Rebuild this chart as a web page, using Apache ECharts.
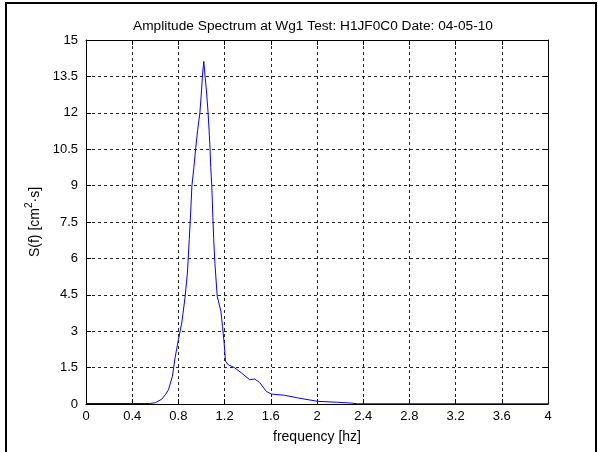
<!DOCTYPE html>
<html>
<head>
<meta charset="utf-8">
<script src="https://cdn.jsdelivr.net/npm/echarts@6/dist/echarts.min.js"></script>
<style>
html,body{margin:0;padding:0;background:#fff;}
#chart{position:absolute;left:0;top:0;width:598px;height:452px;}
#frame{position:absolute;left:5px;top:2px;width:588px;height:470px;border:2px solid #000;pointer-events:none;}
</style>
</head>
<body>
<div id="chart"></div>
<div id="frame"></div>
<script>
const titleText = 'Amplitude Spectrum at Wg1 Test: H1JF0C0 Date: 04-05-10';
const xName = 'frequency [hz]';
const yNameParts = ['S(f) [cm', '2', '\u00B7s]'];
const xTicks = [0, 0.4, 0.8, 1.2, 1.6, 2, 2.4, 2.8, 3.2, 3.6, 4];
const yTicks = [0, 1.5, 3, 4.5, 6, 7.5, 9, 10.5, 12, 13.5, 15];
const freq = [0, 0.55, 0.6, 0.656, 0.69, 0.714, 0.748, 0.771, 0.8, 0.829, 0.857, 0.878, 0.894, 0.906, 0.917, 0.934, 0.949, 0.966, 0.986, 1.0, 1.009, 1.02, 1.029, 1.043, 1.057, 1.066, 1.074, 1.08, 1.089, 1.097, 1.106, 1.116, 1.136, 1.168, 1.182, 1.196, 1.208, 1.231, 1.288, 1.346, 1.417, 1.46, 1.503, 1.561, 1.604, 1.719, 1.834, 2.006, 2.178, 2.293, 2.35, 4.0];
const amp = [0.02, 0.02, 0.05, 0.2, 0.4, 0.59, 1.14, 1.9, 2.65, 3.34, 4.37, 5.4, 6.77, 7.87, 9.0, 9.75, 10.5, 11.26, 12.0, 12.9, 13.6, 14.12, 13.6, 12.9, 12.0, 11.26, 10.5, 9.75, 9.0, 7.87, 6.77, 5.8, 4.44, 3.82, 3.2, 2.52, 1.76, 1.62, 1.49, 1.28, 1.0, 1.03, 0.89, 0.52, 0.41, 0.36, 0.25, 0.11, 0.07, 0.04, 0.01, 0.01];

const font = 'Liberation Sans, Arial, sans-serif';
const pts = freq.map((f, i) => [f, amp[i]]);
const xStep = xTicks[1] - xTicks[0];
const yStep = yTicks[1] - yTicks[0];

function xAx(pos, main) {
  return {
    type: 'value', position: pos, min: xTicks[0], max: xTicks[xTicks.length - 1], interval: xStep,
    name: main ? xName : '', nameLocation: 'middle', nameGap: 26,
    nameTextStyle: {fontFamily: font, fontSize: 14, color: '#000'},
    axisLine: {show: true, onZero: false, lineStyle: {color: '#000', width: 1}},
    axisTick: {show: true, inside: true, length: 5, lineStyle: {color: '#000'}},
    axisLabel: {show: main, fontFamily: font, fontSize: 13, color: '#000', margin: 6,
      formatter: v => String(Math.round(v * 10) / 10)},
    splitLine: {show: main, lineStyle: {color: '#222', type: [3, 3], width: 1}}
  };
}
function yAx(pos, main) {
  return {
    type: 'value', position: pos, min: yTicks[0], max: yTicks[yTicks.length - 1], interval: yStep,
    name: main ? '{n|' + yNameParts[0] + '}{s|' + yNameParts[1] + '}{n|' + yNameParts[2] + '}' : '',
    nameLocation: 'middle', nameGap: 42, nameRotate: 90,
    nameTextStyle: {fontFamily: font, fontSize: 14, color: '#000',
      rich: {
        n: {fontFamily: font, fontSize: 14, color: '#000', verticalAlign: 'bottom', lineHeight: 18},
        s: {fontFamily: font, fontSize: 10, color: '#000', verticalAlign: 'top', lineHeight: 18, padding: [0, 0, 8, 0]}
      }},
    axisLine: {show: true, onZero: false, lineStyle: {color: '#000', width: 1}},
    axisTick: {show: true, inside: true, length: 5, lineStyle: {color: '#000'}},
    axisLabel: {show: main, fontFamily: font, fontSize: 13, color: '#000', margin: 8,
      formatter: v => String(Math.round(v * 10) / 10)},
    splitLine: {show: main, lineStyle: {color: '#222', type: [3, 3], width: 1}}
  };
}

const chart = echarts.init(document.getElementById('chart'), null, {renderer: 'canvas'});
chart.setOption({
  animation: false,
  backgroundColor: '#fff',
  title: {text: titleText, left: 308, textAlign: 'center', top: 14,
    textStyle: {fontFamily: font, fontSize: 13.7, fontWeight: 'normal', color: '#000'}},
  grid: {left: 86, right: 50, top: 40, bottom: 48, containLabel: false},
  xAxis: [xAx('bottom', true), xAx('top', false)],
  yAxis: [yAx('left', true), yAx('right', false)],
  series: [{
    type: 'line', data: pts, xAxisIndex: 0, yAxisIndex: 0,
    showSymbol: false, smooth: false,
    lineStyle: {color: '#0000ff', width: 1}
  }]
});
</script>
</body>
</html>
